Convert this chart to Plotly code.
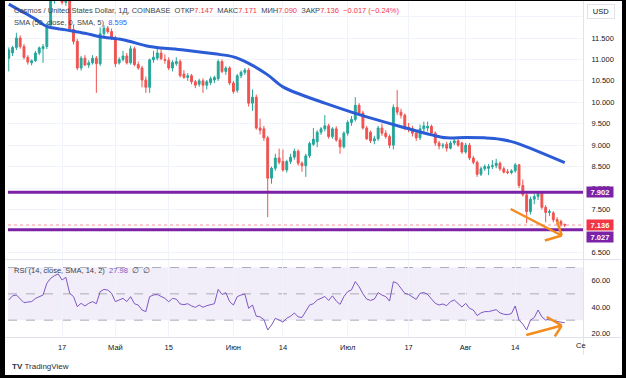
import pandas as pd
import plotly.graph_objects as go

# ---------------- data ----------------
start_date = "2023-04-03"

opens = [11.03, 11.15, 11.28, 11.50, 11.30, 11.05, 10.92, 10.97, 11.15, 11.25,
         11.30, 11.80, 12.45, 12.60, 12.45, 12.33, 12.50, 11.70, 11.42, 10.80,
         11.03, 10.87, 10.92, 11.03, 10.90, 11.60, 11.73, 11.65, 11.50, 10.92,
         11.00, 11.08, 10.92, 11.25, 10.88, 10.80, 10.52, 10.35, 10.99, 11.03,
         11.15, 11.00, 10.98, 10.80, 10.90, 10.95, 10.66, 10.58, 10.62, 10.48,
         10.42, 10.50, 10.40, 10.46, 10.52, 10.55, 10.95, 10.72, 10.80, 10.45,
         10.28, 10.62, 10.70, 10.75, 9.98, 10.12, 9.40, 9.38, 9.17, 8.23,
         8.46, 8.70, 8.62, 8.42, 8.62, 8.72, 8.86, 8.58, 8.52, 8.75,
         9.02, 9.08, 9.30, 9.38, 9.45, 9.20, 9.38, 9.12, 8.96, 9.28,
         9.53, 9.60, 9.93, 9.75, 9.40, 9.30, 9.10, 9.15, 9.40, 9.28,
         9.20, 9.00, 9.88, 9.77, 9.70, 9.42, 9.38, 9.28, 9.17, 9.38,
         9.40, 9.44, 9.28, 9.05, 8.98, 9.02, 8.93, 9.05, 9.10, 9.05,
         8.84, 9.00, 8.70, 8.60, 8.32, 8.45, 8.46, 8.50, 8.52, 8.58,
         8.45, 8.38, 8.36, 8.40, 8.54, 8.06, 7.84, 7.45, 7.74, 7.80,
         7.88, 7.55, 7.43, 7.42, 7.26, 7.22, 7.147]

highs = [11.28, 11.32, 11.62, 11.56, 11.36, 11.10, 11.00, 11.20, 11.30, 11.36,
         11.85, 12.55, 12.70, 12.75, 12.65, 12.58, 12.55, 11.80, 11.48, 11.08,
         11.10, 10.98, 11.10, 11.08, 11.75, 11.80, 11.78, 11.72, 11.55, 11.05,
         11.20, 11.15, 11.32, 11.30, 10.95, 10.85, 10.60, 11.02, 11.20, 11.30,
         11.28, 11.12, 11.05, 10.98, 11.05, 11.00, 10.75, 10.68, 10.66, 10.52,
         10.55, 10.56, 10.52, 10.60, 10.62, 11.00, 11.00, 10.84, 10.84, 10.50,
         10.66, 10.74, 10.80, 10.80, 10.30, 10.18, 9.62, 9.45, 9.22, 8.50,
         8.80, 8.92, 8.90, 8.66, 8.80, 8.92, 8.90, 8.62, 8.80, 9.08,
         9.40, 9.35, 9.42, 9.70, 9.50, 9.42, 9.44, 9.18, 9.32, 9.58,
         9.68, 10.12, 9.98, 9.80, 9.45, 9.34, 9.22, 9.45, 9.50, 9.35,
         9.25, 9.95, 10.29, 9.85, 9.74, 9.52, 9.45, 9.34, 9.48, 9.55,
         9.55, 9.48, 9.32, 9.10, 9.05, 9.08, 9.10, 9.14, 9.14, 9.08,
         9.05, 9.05, 8.75, 8.64, 8.50, 8.55, 8.56, 8.65, 8.68, 8.62,
         8.50, 8.44, 8.44, 8.58, 8.56, 8.20, 7.90, 7.80, 7.86, 7.92,
         7.90, 7.60, 7.50, 7.46, 7.32, 7.26, 7.171]

lows = [10.72, 11.08, 11.22, 11.25, 11.00, 10.88, 10.86, 10.94, 11.10, 10.92,
        11.24, 11.75, 12.30, 12.38, 12.28, 12.25, 11.65, 11.35, 10.75, 10.74,
        10.84, 10.80, 10.88, 10.22, 10.85, 11.50, 11.60, 11.45, 10.82, 10.88,
        10.95, 10.88, 10.88, 10.84, 10.76, 10.35, 10.22, 10.22, 10.92, 10.98,
        10.98, 10.90, 10.75, 10.72, 10.85, 10.58, 10.55, 10.50, 10.42, 10.33,
        10.36, 10.22, 10.30, 10.40, 10.45, 10.50, 10.68, 10.64, 10.40, 10.20,
        10.22, 10.56, 10.64, 9.90, 9.80, 9.36, 9.25, 9.10, 7.32, 8.10,
        8.40, 8.55, 8.38, 8.36, 8.56, 8.66, 8.52, 8.38, 8.26, 8.70,
        8.98, 8.95, 9.24, 9.32, 9.15, 9.15, 9.08, 8.80, 8.92, 9.22,
        9.45, 9.55, 9.70, 9.36, 9.12, 9.05, 9.02, 9.10, 9.22, 9.15,
        8.93, 8.90, 9.70, 9.62, 9.35, 9.30, 9.20, 9.10, 9.12, 9.30,
        9.32, 9.22, 8.98, 8.90, 8.92, 8.85, 8.90, 9.00, 8.96, 8.80,
        8.80, 8.65, 8.55, 8.26, 8.28, 8.40, 8.30, 8.44, 8.46, 8.40,
        8.34, 8.32, 8.32, 8.36, 8.00, 7.80, 7.18, 7.38, 7.62, 7.72,
        7.50, 7.20, 7.35, 7.20, 7.14, 7.10, 7.09]

closes = [11.22, 11.28, 11.50, 11.30, 11.05, 10.94, 10.97, 11.15, 11.27, 11.30,
          11.80, 12.45, 12.60, 12.45, 12.33, 12.50, 11.70, 11.42, 10.80, 11.03,
          10.87, 10.92, 11.03, 10.90, 11.60, 11.73, 11.65, 11.50, 10.90, 11.00,
          11.08, 10.92, 11.25, 10.88, 10.80, 10.52, 10.35, 10.99, 11.05, 11.15,
          11.02, 10.98, 10.80, 10.93, 10.95, 10.62, 10.58, 10.62, 10.48, 10.40,
          10.50, 10.40, 10.48, 10.55, 10.58, 10.95, 10.72, 10.80, 10.45, 10.25,
          10.62, 10.70, 10.75, 9.98, 10.12, 9.40, 9.35, 9.17, 8.23, 8.46,
          8.70, 8.60, 8.42, 8.62, 8.72, 8.86, 8.58, 8.52, 8.75, 9.04,
          9.14, 9.30, 9.38, 9.45, 9.20, 9.38, 9.12, 8.96, 9.28, 9.53,
          9.60, 9.93, 9.75, 9.40, 9.15, 9.10, 9.15, 9.40, 9.28, 9.20,
          9.00, 9.88, 9.77, 9.70, 9.42, 9.38, 9.28, 9.17, 9.38, 9.45,
          9.44, 9.28, 9.05, 8.98, 9.00, 8.93, 9.05, 9.10, 9.00, 8.84,
          9.00, 8.70, 8.60, 8.32, 8.45, 8.50, 8.50, 8.52, 8.58, 8.45,
          8.37, 8.36, 8.40, 8.54, 8.06, 7.84, 7.45, 7.74, 7.80, 7.88,
          7.55, 7.43, 7.45, 7.26, 7.22, 7.16, 7.136]

# SMA(50) read at a number of days (day index from start)
sma_days = [0, 3, 7, 10, 15, 20, 24, 30, 37, 46, 54, 59, 63, 68, 72, 77, 83, 90,
            94, 103, 111, 115, 120, 125, 129, 133, 136, 141, 146]
sma_vals = [12.29, 12.14, 11.94, 11.77, 11.69, 11.61, 11.53, 11.46, 11.30, 11.22,
            11.13, 11.06, 10.91, 10.64, 10.36, 10.17, 9.98, 9.77, 9.66, 9.43,
            9.24, 9.17, 9.18, 9.17, 9.14, 9.06, 8.96, 8.78, 8.595]

# RSI(14), one value per day
rsi_vals = [45.3, 48.5, 49.1, 46.0, 43.3, 43.8, 44.1, 46.5, 47.9, 49.1,
            58.0, 61.8, 63.8, 65.1, 60.5, 62.6, 50.4, 47.9, 40.3, 42.8,
            40.8, 42.8, 44.1, 42.5, 51.7, 53.4, 52.9, 50.4, 44.1, 45.3,
            46.6, 44.1, 47.9, 42.5, 41.5, 37.7, 36.5, 47.9, 49.1, 49.5,
            47.9, 46.6, 44.0, 46.5, 46.0, 42.3, 41.8, 42.5, 40.8, 39.7,
            41.5, 39.8, 41.0, 41.8, 42.5, 53.4, 49.5, 50.9, 44.1, 41.5,
            47.9, 49.1, 49.8, 39.0, 41.5, 33.0, 32.5, 30.5, 22.5, 26.3,
            31.4, 30.1, 28.5, 31.5, 33.0, 35.5, 32.5, 32.0, 36.5, 41.5,
            42.5, 45.3, 46.6, 48.0, 45.0, 48.5, 44.5, 42.0, 47.9, 51.7,
            53.0, 59.3, 55.5, 50.0, 46.0, 45.0, 46.0, 50.9, 49.1, 47.9,
            44.5, 59.3, 58.0, 54.2, 50.4, 49.5, 47.9, 45.8, 50.4, 51.0,
            49.5, 46.0, 42.8, 41.5, 42.3, 41.0, 44.1, 45.3, 42.5, 40.0,
            42.8, 39.0, 37.7, 33.5, 35.5, 36.5, 36.5, 37.0, 38.0, 35.5,
            34.5, 34.2, 35.0, 40.8, 30.0, 27.0, 22.5, 30.0, 32.0, 37.7,
            32.5, 30.0, 31.0, 29.5, 29.0, 28.5, 27.98]

level_high = 7.902
level_low = 7.027
last_close = 7.136
sma_last = 8.595
rsi_last = 27.98

price_ticks = [6.5, 7.5, 8.0, 8.5, 9.0, 9.5, 10.0, 10.5, 11.0, 11.5, 12.0]
rsi_ticks = [20, 40, 60]
time_tick_dates = ["2023-04-17", "2023-05-01", "2023-05-15", "2023-06-01", "2023-06-14",
                   "2023-07-01", "2023-07-17", "2023-08-01", "2023-08-14"]
time_tick_text = ["17", "Май", "15", "Июн", "14", "Июл", "17", "Авг", "14"]

assert len(opens) == len(highs) == len(lows) == len(closes) == len(rsi_vals)

# ---------------- figure ----------------
W, H = 626, 378
ML, MR, MT, MB = 8, 43, 1, 41
PW, PH = W - ML - MR, H - MT - MB


def px_x(px):
    return (px - ML) / PW


def px_y(py):
    return (H - MB - py) / PH


t0 = pd.Timestamp(start_date)
dates = pd.date_range(t0, periods=len(closes), freq="D")
DAY_PX = 3.808
x_start = t0 - pd.Timedelta(days=0.2)
x_end = x_start + pd.Timedelta(days=PW / DAY_PX)


def day(d):
    return t0 + pd.Timedelta(days=d)


UP, DN = "#26a69a", "#ef5350"
FONT = "Liberation Sans"
TXT = "#131722"
FS = 7.5
ORANGE = "#f48b1f"
PURPLE = "#7b22a6"
GRID = "#f0f3fa"

fig = go.Figure()
fig.add_trace(go.Candlestick(
    x=dates, open=opens, high=highs, low=lows, close=closes,
    increasing=dict(line=dict(color=UP, width=1), fillcolor=UP),
    decreasing=dict(line=dict(color=DN, width=1), fillcolor=DN),
    whiskerwidth=0, xaxis="x", yaxis="y", showlegend=False, hoverinfo="skip"))
fig.add_trace(go.Scatter(
    x=[day(d) for d in sma_days], y=sma_vals, mode="lines",
    line=dict(color="#2b5cd6", width=3, shape="spline", smoothing=1.0),
    xaxis="x", yaxis="y", showlegend=False, hoverinfo="skip"))
fig.add_trace(go.Scatter(
    x=dates, y=rsi_vals, mode="lines",
    line=dict(color="#7e57c2", width=1),
    xaxis="x2", yaxis="y2", showlegend=False, hoverinfo="skip"))

main_dom = [px_y(259), 1]
rsi_dom = [0, px_y(260)]
p_lo = 11.5 - (259 - 38) / 42.86
p_hi = 11.5 - (MT - 38) / 42.86
r_lo = 60 - (337 - 280.7) / 1.315
r_hi = 60 - (260 - 280.7) / 1.315

shapes = []
# RSI band and dashed levels
shapes.append(dict(type="rect", xref="x2 domain", yref="y2", x0=0, x1=1, y0=30, y1=70,
                   fillcolor="rgba(126,87,194,0.10)", line=dict(width=0), layer="below"))
for lv in (70, 50, 30):
    shapes.append(dict(type="line", xref="x2 domain", yref="y2", x0=0, x1=1, y0=lv, y1=lv,
                       line=dict(color="#a9acb8", width=1, dash="dash"), layer="below"))
# last price line
shapes.append(dict(type="line", xref="x domain", yref="y", x0=0, x1=1, y0=last_close, y1=last_close,
                   line=dict(color="rgba(242,54,69,0.55)", width=1, dash="dot")))
# horizontal levels
for lv in (level_high, level_low):
    shapes.append(dict(type="line", xref="x domain", yref="y", x0=0, x1=1, y0=lv, y1=lv,
                       line=dict(color=PURPLE, width=3)))


# orange arrows (drawings)
def seg(xa, ya, xb, yb, axis_x, axis_y):
    return dict(type="line", xref=axis_x, yref=axis_y, x0=day(xa), y0=ya, x1=day(xb), y1=yb,
                line=dict(color=ORANGE, width=2.5))


shapes += [seg(131.8, 7.51, 145.2, 6.892, "x", "y"),
           seg(140.8, 6.775, 145.2, 6.892, "x", "y"),
           seg(144.0, 7.23, 145.2, 6.892, "x", "y")]
shapes += [seg(135.9, 18.7, 145.2, 25.9, "x2", "y2"),
           seg(141.3, 32.4, 145.2, 25.9, "x2", "y2"),
           seg(143.4, 17.6, 145.2, 25.9, "x2", "y2")]

# separators
sep = "#e0e3eb"
shapes.append(dict(type="line", xref="paper", yref="paper", x0=px_x(583.5), x1=px_x(583.5),
                   y0=px_y(0), y1=px_y(355), line=dict(color=sep, width=1)))
shapes.append(dict(type="line", xref="paper", yref="paper", x0=px_x(5), x1=px_x(621),
                   y0=px_y(259.5), y1=px_y(259.5), line=dict(color=sep, width=1)))
shapes.append(dict(type="line", xref="paper", yref="paper", x0=px_x(5), x1=px_x(621),
                   y0=px_y(337.5), y1=px_y(337.5), line=dict(color=sep, width=1)))
# black frame of the screenshot
for (a, b, c, d) in [(0, 0, 5, H), (W - 4, 0, W, H), (0, H - 3, W, H), (0, 0, W, 1)]:
    shapes.append(dict(type="rect", xref="paper", yref="paper", x0=px_x(a), x1=px_x(c),
                       y0=px_y(d), y1=px_y(b), fillcolor="#000000", line=dict(width=0)))

RED = "#f23645"
sp = "\u00a0"
header = (f"Cosmos / United States Dollar, 1Д, COINBASE{sp}{sp}"
          f"ОТКР<span style='color:{RED}'>7.147</span>{sp}{sp}"
          f"МАКС<span style='color:{RED}'>7.171</span>{sp}{sp}"
          f"МИН<span style='color:{RED}'>7.090</span>{sp}{sp}"
          f"ЗАКР<span style='color:{RED}'>{last_close:.3f}</span>{sp}{sp}"
          f"<span style='color:{RED}'>−0.017 (−0.24%)</span>")
sma_txt = f"SMA (50, close, 0, SMA, 5){sp}{sp}<span style='color:#2962ff'>{sma_last:.3f}</span>"
rsi_txt = (f"RSI (14, close, SMA, 14, 2){sp}{sp}<span style='color:#7e57c2'>{rsi_last:.2f}</span>"
           f"{sp}{sp}∅{sp}{sp}∅")

ann = []


def text(x, y, s, size=FS, color=TXT, xanchor="left", **kw):
    ann.append(dict(xref="paper", yref="paper", x=px_x(x), y=px_y(y), text=s, showarrow=False,
                    xanchor=xanchor, yanchor="middle", font=dict(family=FONT, size=size, color=color), **kw))


text(12, 10, header, color="#3b3f4a")
text(12, 22.5, sma_txt, color="#3b3f4a")
text(12, 270, rsi_txt, color="#3b3f4a")
text(581, 346, "Се", xanchor="center")
text(10, 366, "<b>TV</b>" + sp + "TradingView", size=8, color="#2a2e39")
# USD box
ann.append(dict(xref="paper", yref="paper", x=px_x(600.5), y=px_y(11), text="USD", showarrow=False,
                xanchor="center", yanchor="middle", font=dict(family=FONT, size=FS, color=TXT),
                bgcolor="#ffffff", bordercolor="#e0e3eb", borderwidth=1, borderpad=2, width=22))


def price_label(val, bg, yshift=0):
    ann.append(dict(xref="paper", yref="y", x=px_x(586), y=val, text=f"<b>{val:.3f}</b>",
                    showarrow=False, xanchor="left", yanchor="middle", yshift=yshift,
                    font=dict(family=FONT, size=FS, color="#ffffff"), bgcolor=bg,
                    borderpad=1, width=24, height=8))


price_label(level_high, PURPLE)
price_label(last_close, RED)
price_label(level_low, PURPLE, yshift=-7)

fig.update_layout(
    width=W, height=H, margin=dict(l=ML, r=MR, t=MT, b=MB),
    paper_bgcolor="#ffffff", plot_bgcolor="#ffffff",
    font=dict(family=FONT, size=FS, color=TXT),
    showlegend=False, hovermode=False,
    xaxis=dict(domain=[0, 1], anchor="y", range=[x_start, x_end], type="date",
               tickvals=time_tick_dates, showticklabels=False, showgrid=True, gridcolor=GRID,
               rangeslider=dict(visible=False), showline=False, zeroline=False, matches="x2"),
    xaxis2=dict(domain=[0, 1], anchor="y2", range=[x_start, x_end], type="date",
                tickvals=time_tick_dates, ticktext=time_tick_text, showgrid=True, gridcolor=GRID,
                ticks="outside", ticklen=3, tickcolor="rgba(0,0,0,0)",
                tickfont=dict(family=FONT, size=FS, color=TXT), showline=False, zeroline=False),
    yaxis=dict(domain=main_dom, anchor="x", range=[p_lo, p_hi], side="right",
               tickvals=price_ticks, tickformat=".3f", showgrid=True, gridcolor=GRID,
               ticks="outside", ticklen=6, tickcolor="rgba(0,0,0,0)",
               tickfont=dict(family=FONT, size=FS, color=TXT), zeroline=False, showline=False),
    yaxis2=dict(domain=rsi_dom, anchor="x2", range=[r_lo, r_hi], side="right",
                tickvals=rsi_ticks, tickformat=".2f", showgrid=False,
                ticks="outside", ticklen=6, tickcolor="rgba(0,0,0,0)",
                tickfont=dict(family=FONT, size=FS, color=TXT), zeroline=False, showline=False),
    shapes=shapes, annotations=ann,
)

fig.write_html("out.html", config={"displayModeBar": False, "staticPlot": True},
               post_script="document.body.style.margin='0';document.body.style.overflow='hidden';")
